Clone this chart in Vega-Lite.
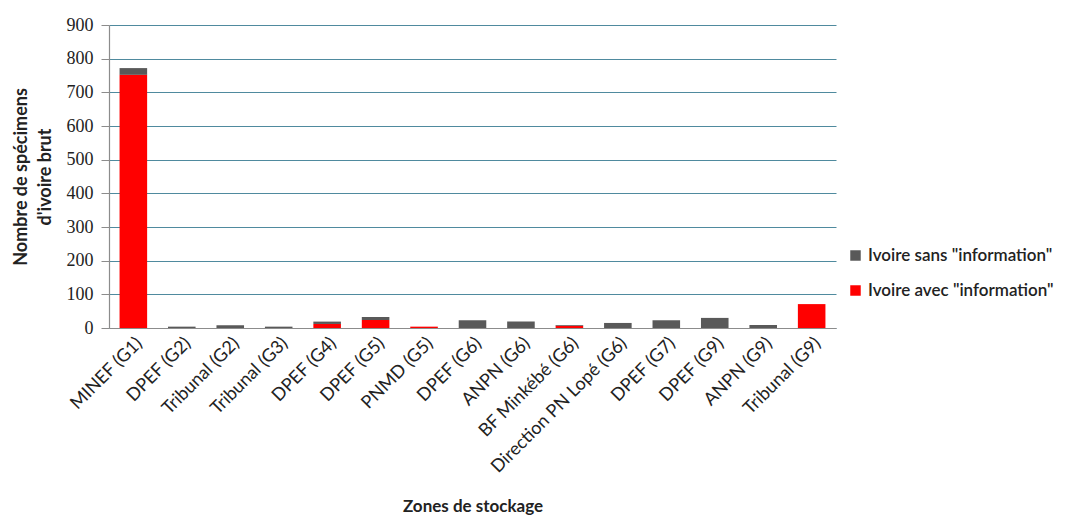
{
  "$schema": "https://vega.github.io/schema/vega-lite/v6.json",
  "width": 727,
  "height": 303,
  "autosize": {"type": "none"},
  "padding": {"left": 109, "top": 25, "right": 254, "bottom": 189},
  "background": "white",
  "config": {"view": {"stroke": null}, "font": "Lato"},
  "data": {"values": [
    {"zone": "MINEF (G1)", "type": "Ivoire avec \"information\"", "n": 752},
    {"zone": "MINEF (G1)", "type": "Ivoire sans \"information\"", "n": 20},
    {"zone": "DPEF (G2)", "type": "Ivoire sans \"information\"", "n": 4},
    {"zone": "Tribunal (G2)", "type": "Ivoire sans \"information\"", "n": 8},
    {"zone": "Tribunal (G3)", "type": "Ivoire sans \"information\"", "n": 4},
    {"zone": "DPEF (G4)", "type": "Ivoire avec \"information\"", "n": 12},
    {"zone": "DPEF (G4)", "type": "Ivoire sans \"information\"", "n": 7},
    {"zone": "DPEF (G5)", "type": "Ivoire avec \"information\"", "n": 24},
    {"zone": "DPEF (G5)", "type": "Ivoire sans \"information\"", "n": 9},
    {"zone": "PNMD (G5)", "type": "Ivoire avec \"information\"", "n": 4},
    {"zone": "DPEF (G6)", "type": "Ivoire sans \"information\"", "n": 23},
    {"zone": "ANPN (G6)", "type": "Ivoire sans \"information\"", "n": 19},
    {"zone": "BF Minkébé (G6)", "type": "Ivoire avec \"information\"", "n": 7},
    {"zone": "BF Minkébé (G6)", "type": "Ivoire sans \"information\"", "n": 2},
    {"zone": "Direction PN Lopé (G6)", "type": "Ivoire sans \"information\"", "n": 15},
    {"zone": "DPEF (G7)", "type": "Ivoire sans \"information\"", "n": 23},
    {"zone": "DPEF (G9)", "type": "Ivoire sans \"information\"", "n": 30},
    {"zone": "ANPN (G9)", "type": "Ivoire sans \"information\"", "n": 9},
    {"zone": "Tribunal (G9)", "type": "Ivoire avec \"information\"", "n": 71}
  ]},
  "mark": {"type": "bar"},
  "encoding": {
    "x": {
      "field": "zone", "type": "nominal", "sort": null,
      "scale": {"paddingInner": 0.431, "paddingOuter": 0.218},
      "axis": {
        "title": "Zones de stockage", "titleFontSize": 17, "titleFontWeight": "bold", "titleColor": "#222",
        "titlePadding": 22,
        "labelAngle": -45, "labelFontSize": 18, "labelColor": "#222", "labelPadding": 6, "labelLimit": 300,
        "ticks": false, "domainColor": "#8c8c8c", "domainWidth": 1.2, "grid": false
      }
    },
    "y": {
      "aggregate": "sum", "field": "n", "type": "quantitative", "stack": "zero",
      "scale": {"domain": [0, 900], "nice": false},
      "axis": {
        "values": [0, 100, 200, 300, 400, 500, 600, 700, 800, 900],
        "title": ["Nombre de spécimens", "d'ivoire brut"], "titleFontSize": 18, "titleFontWeight": "bold", "titleColor": "#222",
        "titlePadding": 12, "titleLineHeight": 24,
        "labelFont": "Liberation Serif", "labelFontSize": 18, "labelColor": "#222", "labelPadding": 8,
        "tickSize": 8, "tickColor": "#8c8c8c", "domainColor": "#8c8c8c", "domainWidth": 1.2,
        "grid": true, "gridColor": "#4f8a9e", "gridWidth": 1
      }
    },
    "color": {
      "field": "type", "type": "nominal",
      "scale": {"domain": ["Ivoire sans \"information\"", "Ivoire avec \"information\""], "range": ["#595959", "#ff0000"]},
      "legend": {
        "title": null, "orient": "none", "legendX": 738, "legendY": 222,
        "symbolType": "square", "symbolSize": 110, "symbolStrokeWidth": 0,
        "labelFontSize": 17, "labelColor": "#222", "labelFont": "Lato", "labelFontWeight": 600, "labelLimit": 400,
        "rowPadding": 17, "labelOffset": 4
      }
    },
    "order": {"field": "type", "sort": "ascending"}
  }
}
